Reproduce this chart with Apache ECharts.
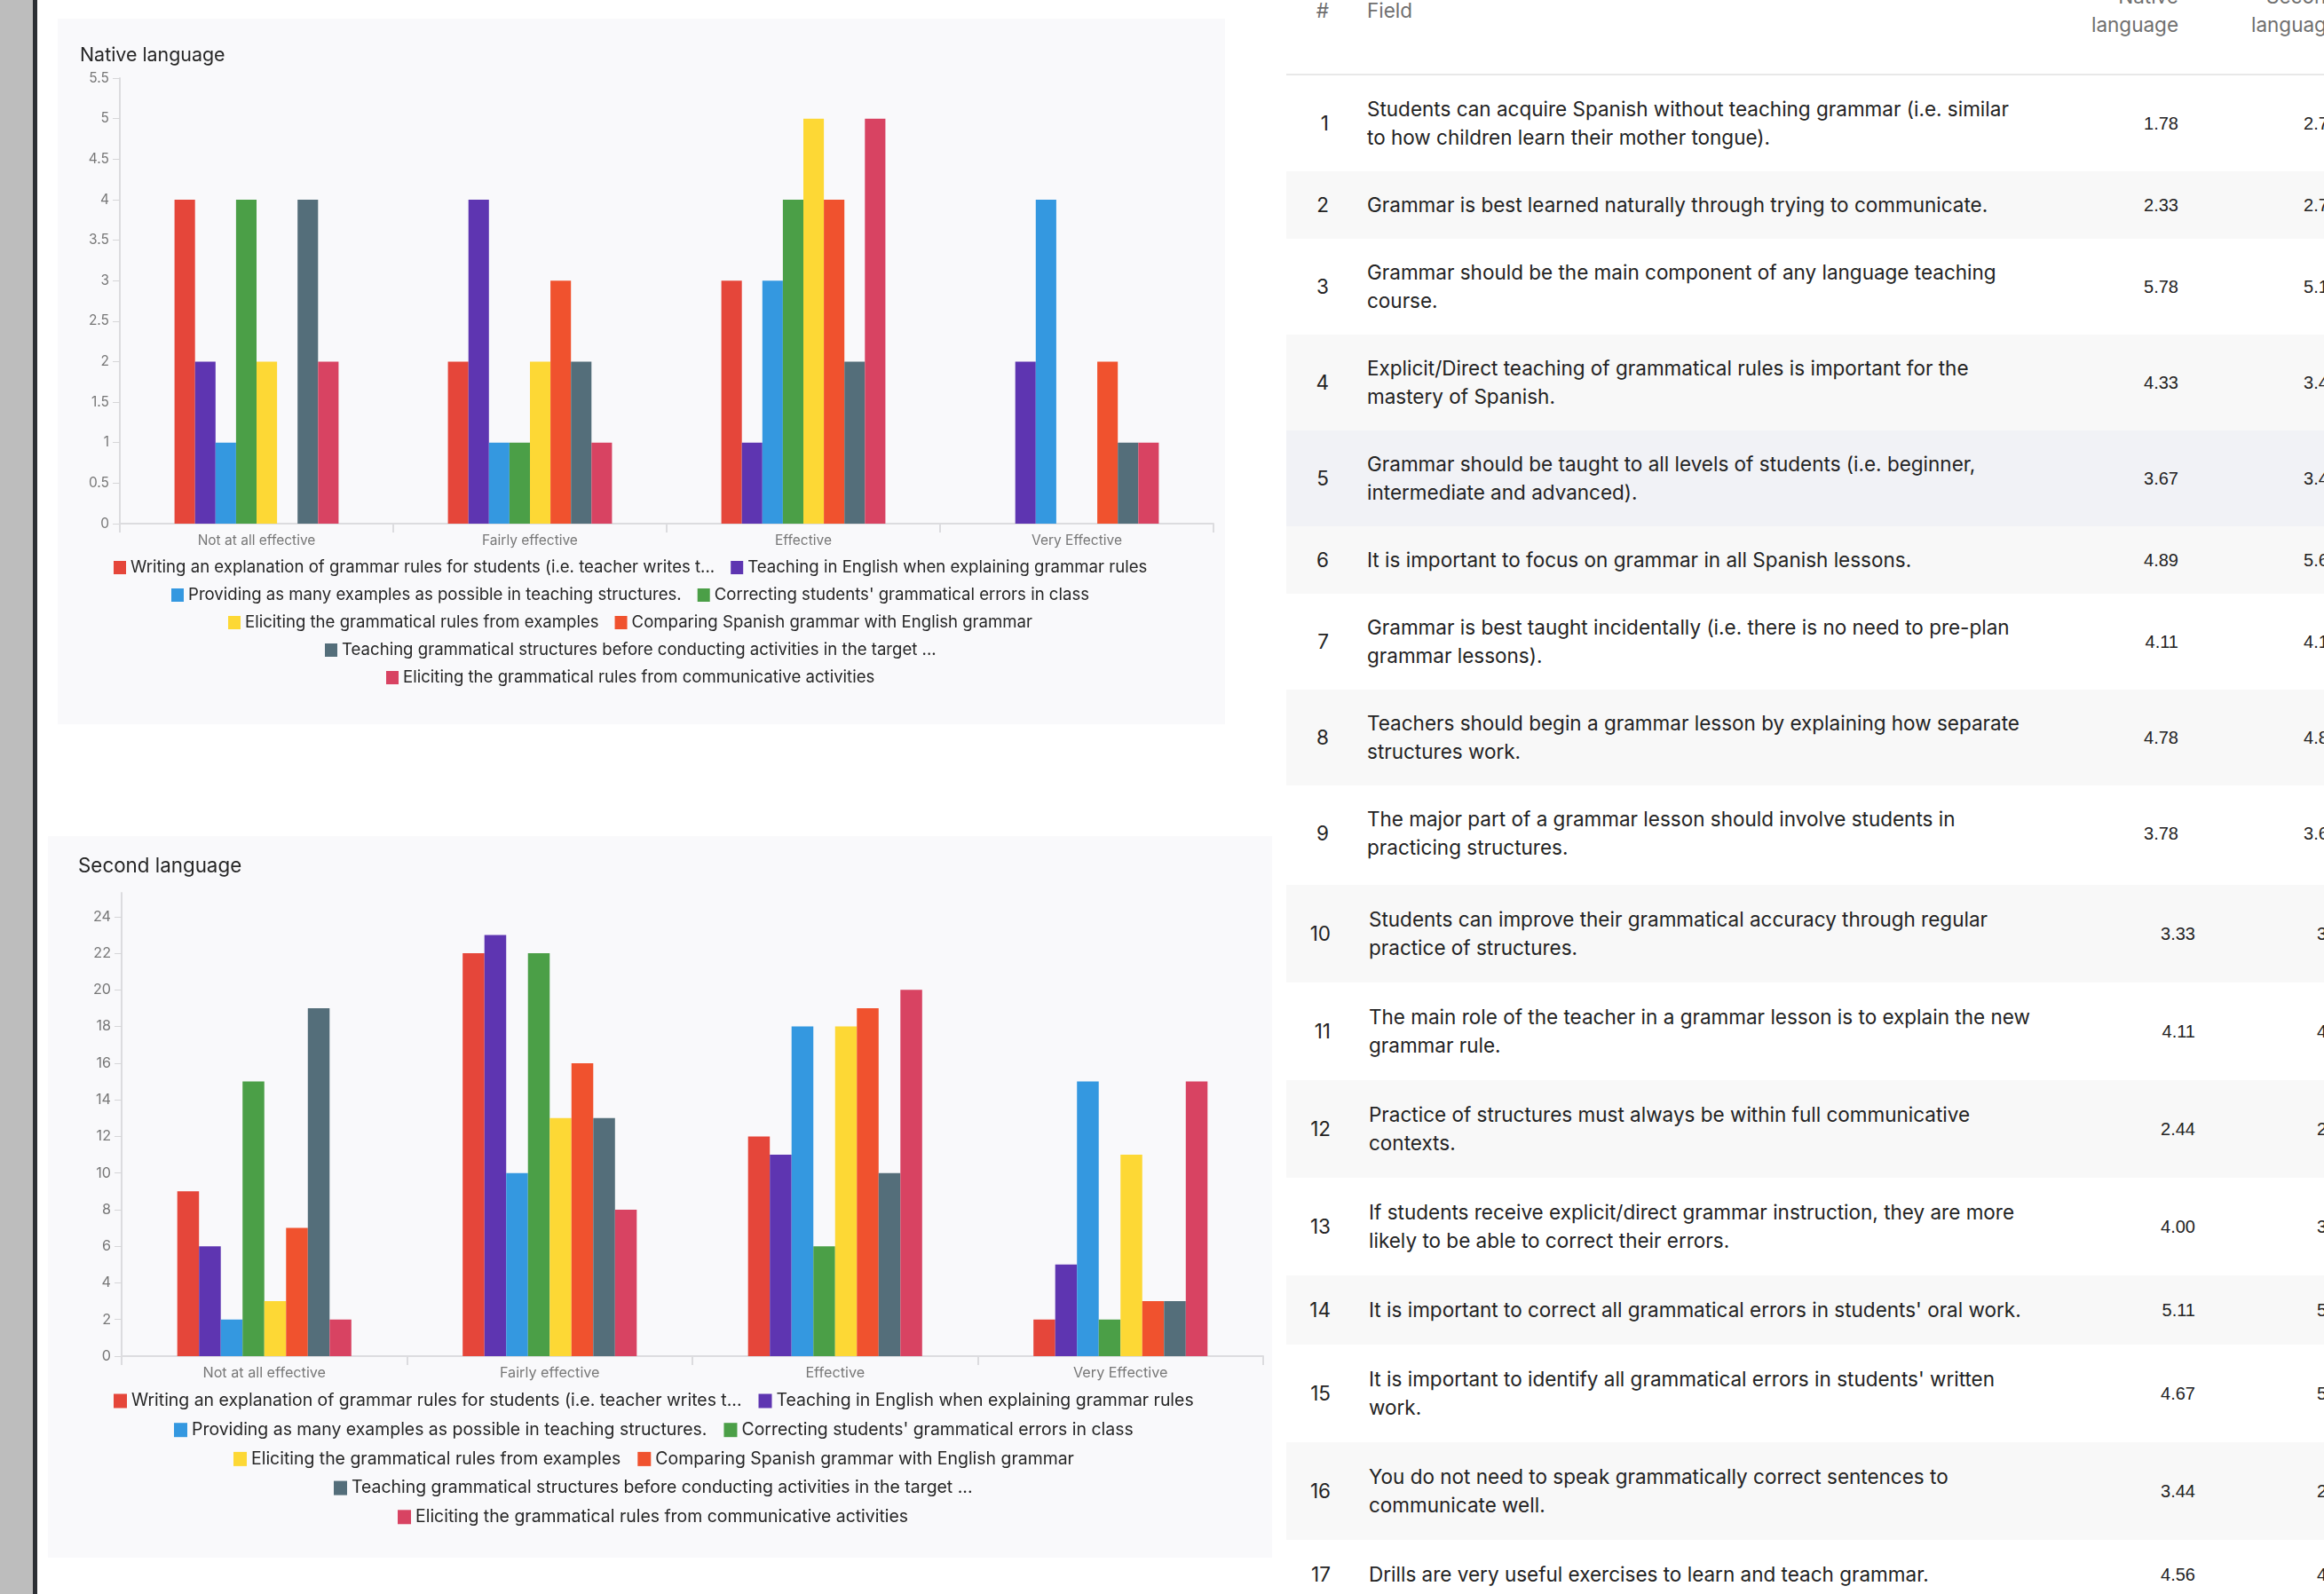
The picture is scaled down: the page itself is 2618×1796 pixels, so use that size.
<!DOCTYPE html>
<html>
<head>
<meta charset="UTF-8">
<title>Grammar teaching survey</title>
<script src="https://cdn.jsdelivr.net/npm/echarts@6/dist/echarts.min.js"></script>
<style>
	html, body {
		margin: 0;
		padding: 0;
	}
	body {
		width: 2618px;
		height: 1796px;
		overflow: hidden;
		position: relative;
		background: #fff;
		font-family: Inter, "Liberation Sans", Arial, sans-serif;
	}
	.strip {
		position: absolute;
		top: 0;
		height: 1796px;
	}
	.panel {
		position: absolute;
		background: #f9f9fb;
	}
	table.grid {
		position: absolute;
		border-collapse: collapse;
		table-layout: fixed;
		font-size: 22.5px;
		color: #232323;
	}
	table.grid td {
		line-height: 32px;
		padding: 22px 0;
		vertical-align: middle;
		white-space: pre;
		overflow: hidden;
	}
	table.lower td {
		padding: 23px 0;
	}
	table.grid th {
		font-weight: normal;
		color: #6f6f6f;
		line-height: 32px;
		padding: 20px 0 39px 0;
		border-bottom: 2px solid #e8e8e8;
		vertical-align: middle;
		white-space: pre;
	}
	.num {
		text-align: right;
		padding-right: 13px !important;
	}
	.field {
		text-align: left;
		padding-left: 30px !important;
	}
	.val {
		text-align: right;
		padding-right: 16px !important;
	}
	td.val {
		font-family: "Liberation Sans", Arial, sans-serif;
		font-size: 20px;
	}
	tr.even {
		background: #f8f8f8;
	}
	tr.hover {
		background: #f1f2f6;
	}
</style>
</head>
<body>
	<div class="strip" style="left:0;width:37px;background:#bdbdbd"></div>
	<div class="strip" style="left:37px;width:5px;background:#2c2f34"></div>

	<div id="nativeChart" class="panel" style="left:65px;top:21px;width:1315px;height:795px"></div>
	<div id="secondChart" class="panel" style="left:54px;top:942px;width:1379px;height:813px"></div>

	<table id="tableTop" class="grid" style="left:1449px;top:-40px;width:1201px">
		<colgroup><col style="width:61px"><col style="width:790px"><col style="width:170px"><col style="width:180px"></colgroup>
		<thead><tr><th class="num">#</th><th class="field">Field</th><th class="val">Native
language</th><th class="val">Second
language</th></tr></thead>
		<tbody></tbody>
	</table>
	<table id="tableBottom" class="grid lower" style="left:1449px;top:997px;width:1216px">
		<colgroup><col style="width:63px"><col style="width:808px"><col style="width:169px"><col style="width:176px"></colgroup>
		<tbody></tbody>
	</table>

<script type="text/javascript">
	// ---- chart data ----
	var categories = ['Not at all effective', 'Fairly effective', 'Effective', 'Very Effective'];

	var seriesNames = [
		'Writing an explanation of grammar rules for students (i.e. teacher writes t...',
		'Teaching in English when explaining grammar rules',
		'Providing as many examples as possible in teaching structures.',
		"Correcting students' grammatical errors in class",
		'Eliciting the grammatical rules from examples',
		'Comparing Spanish grammar with English grammar',
		'Teaching grammatical structures before conducting activities in the target ...',
		'Eliciting the grammatical rules from communicative activities'
	];

	var seriesColors = ['#e5463a', '#5e35b1', '#3498e0', '#4b9f47', '#fdd835', '#f0522e', '#546e7a', '#d84362'];

	// one row per series, one value per category
	var nativeValues = [
		[4, 2, 3, 0],
		[2, 4, 1, 2],
		[1, 1, 3, 4],
		[4, 1, 4, 0],
		[2, 2, 5, 0],
		[0, 3, 4, 2],
		[4, 2, 2, 1],
		[2, 1, 5, 1]
	];

	var secondValues = [
		[9, 22, 12, 2],
		[6, 23, 11, 5],
		[2, 10, 18, 15],
		[15, 22, 6, 2],
		[3, 13, 18, 11],
		[7, 16, 19, 3],
		[19, 13, 10, 3],
		[2, 8, 20, 15]
	];

	var nativeTicks = [0, 0.5, 1, 1.5, 2, 2.5, 3, 3.5, 4, 4.5, 5, 5.5];
	var secondTicks = [0, 2, 4, 6, 8, 10, 12, 14, 16, 18, 20, 22, 24];

	// which series go on which legend line
	var legendRows = [[0, 1], [2, 3], [4, 5], [6], [7]];

	// ---- table data ----
	var fieldTexts = [
		'Students can acquire Spanish without teaching grammar (i.e. similar\nto how children learn their mother tongue).',
		'Grammar is best learned naturally through trying to communicate.',
		'Grammar should be the main component of any language teaching\ncourse.',
		'Explicit/Direct teaching of grammatical rules is important for the\nmastery of Spanish.',
		'Grammar should be taught to all levels of students (i.e. beginner,\nintermediate and advanced).',
		'It is important to focus on grammar in all Spanish lessons.',
		'Grammar is best taught incidentally (i.e. there is no need to pre-plan\ngrammar lessons).',
		'Teachers should begin a grammar lesson by explaining how separate\nstructures work.',
		'The major part of a grammar lesson should involve students in\npracticing structures.',
		'Students can improve their grammatical accuracy through regular\npractice of structures.',
		'The main role of the teacher in a grammar lesson is to explain the new\ngrammar rule.',
		'Practice of structures must always be within full communicative\ncontexts.',
		'If students receive explicit/direct grammar instruction, they are more\nlikely to be able to correct their errors.',
		"It is important to correct all grammatical errors in students' oral work.",
		"It is important to identify all grammatical errors in students' written\nwork.",
		'You do not need to speak grammatically correct sentences to\ncommunicate well.',
		'Drills are very useful exercises to learn and teach grammar.'
	];
	var nativeMeans = [1.78, 2.33, 5.78, 4.33, 3.67, 4.89, 4.11, 4.78, 3.78, 3.33, 4.11, 2.44, 4.00, 5.11, 4.67, 3.44, 4.56];
	// second language column is cut off at the right edge, hidden digits estimated
	var secondMeans = [2.72, 2.76, 5.12, 3.44, 3.48, 5.60, 4.16, 4.84, 3.64, 3.40, 4.20, 2.60, 3.80, 5.20, 5.08, 2.88, 4.32];

	function fillTable(tbody, from, to) {
		var html = '';
		for (var i = from; i < to; i++) {
			var cls = (i + 1) % 2 == 0 ? 'even' : '';
			if (i == 4) cls = 'hover';
			html += '<tr class="' + cls + '">' +
				'<td class="num">' + (i + 1) + '</td>' +
				'<td class="field">' + fieldTexts[i] + '</td>' +
				'<td class="val">' + nativeMeans[i].toFixed(2) + '</td>' +
				'<td class="val">' + secondMeans[i].toFixed(2) + '</td>' +
				'</tr>';
		}
		tbody.innerHTML = html;
	}
	fillTable(document.querySelector('#tableTop tbody'), 0, 9);
	fillTable(document.querySelector('#tableBottom tbody'), 9, 17);

	var chartFont = 'Inter, Liberation Sans, Arial, sans-serif';
	var measureCtx = document.createElement('canvas').getContext('2d');

	// left edge so that a legend line is centred on centerX
	function legendLeft(names, fontSize, iconW, gap, centerX) {
		measureCtx.font = fontSize + 'px ' + chartFont;
		var total = 0;
		for (var i = 0; i < names.length; i++) {
			total += iconW + 5 + measureCtx.measureText(names[i]).width;
		}
		total += gap * (names.length - 1);
		return Math.round(centerX - total / 2);
	}

	function buildOption(cfg) {
		var k = cfg.scale;
		var series = [];
		for (var i = 0; i < seriesNames.length; i++) {
			series.push({
				name: seriesNames[i],
				type: 'bar',
				data: cfg.values[i],
				barGap: 0,
				barCategoryGap: cfg.catGap,
				itemStyle: { color: seriesColors[i] },
				animation: false
			});
		}
		var legends = [];
		var iconW = Math.round(14 * k);
		var gap = Math.round(18 * k);
		var fontSize = 18.6 * k;
		for (var r = 0; r < legendRows.length; r++) {
			var names = legendRows[r].map(function (idx) { return seriesNames[idx]; });
			legends.push({
				data: names,
				top: cfg.legendTop + r * cfg.legendStep,
				left: legendLeft(names, fontSize, iconW, gap, cfg.legendCenter),
				padding: 0,
				icon: 'rect',
				itemWidth: iconW,
				itemHeight: Math.round(15 * k),
				itemGap: gap,
				selectedMode: false,
				textStyle: { fontSize: fontSize, color: '#262626', fontFamily: chartFont }
			});
		}
		return {
			backgroundColor: 'transparent',
			animation: false,
			textStyle: { fontFamily: chartFont },
			title: {
				text: cfg.title,
				left: cfg.titleLeft,
				top: cfg.titleTop,
				padding: 0,
				textStyle: { fontSize: 21.4 * k, fontWeight: 'normal', color: '#262626', fontFamily: chartFont }
			},
			legend: legends,
			grid: cfg.grid,
			xAxis: {
				type: 'category',
				data: categories,
				axisLine: { lineStyle: { color: '#dcdcdf', width: 2 } },
				axisTick: { show: true, length: 10, lineStyle: { color: '#dcdcdf', width: 2 } },
				axisLabel: { color: '#777', fontSize: 15.5 * k, margin: 11, fontFamily: chartFont }
			},
			yAxis: {
				type: 'value',
				min: 0,
				max: cfg.max,
				interval: cfg.interval,
				splitLine: { show: false },
				axisLine: { show: true, lineStyle: { color: '#dcdcdf', width: 2 } },
				axisTick: { show: true, length: 8, lineStyle: { color: '#d6d6d8' }, customValues: cfg.ticks },
				axisLabel: { color: '#777', fontSize: 15.5 * k, margin: 12, customValues: cfg.ticks, fontFamily: chartFont }
			},
			series: series
		};
	}

	var nativeChart = echarts.init(document.getElementById('nativeChart'));
	nativeChart.setOption(buildOption({
		title: 'Native language',
		titleLeft: 25,
		titleTop: 31,
		scale: 1,
		values: nativeValues,
		ticks: nativeTicks,
		max: 5.5,
		interval: 0.5,
		catGap: '40%',
		grid: { left: 70, right: 13, top: 67, bottom: 226, outerBoundsMode: 'none' },
		legendTop: 609,
		legendStep: 31,
		legendCenter: 645
	}));

	var secondChart = echarts.init(document.getElementById('secondChart'));
	secondChart.setOption(buildOption({
		title: 'Second language',
		titleLeft: 34,
		titleTop: 23,
		scale: 1.045,
		values: secondValues,
		ticks: secondTicks,
		max: 25.3,
		interval: 2,
		catGap: '39%',
		grid: { left: 83, right: 10, top: 64, bottom: 227, outerBoundsMode: 'none' },
		legendTop: 627,
		legendStep: 32.7,
		legendCenter: 682
	}));
</script>
</body>
</html>
